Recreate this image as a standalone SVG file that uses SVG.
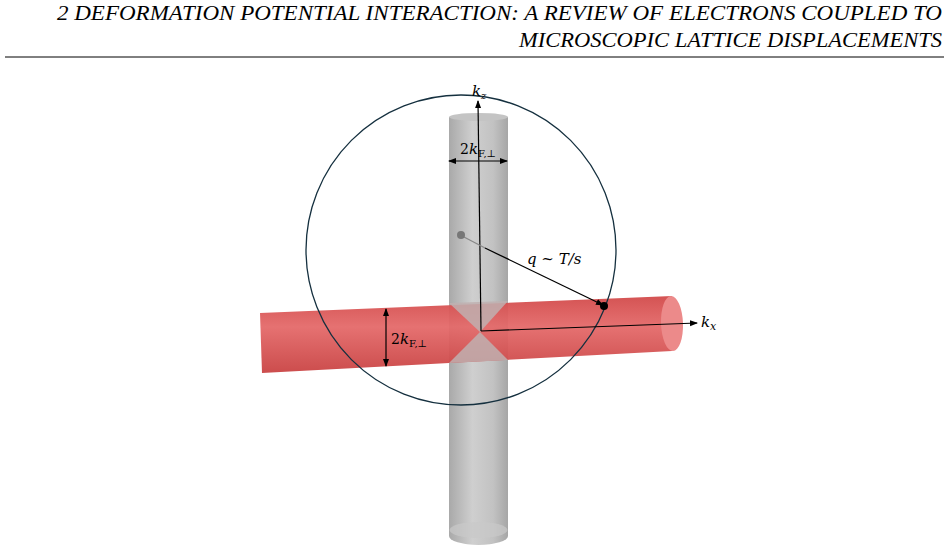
<svg xmlns="http://www.w3.org/2000/svg" width="949" height="549" viewBox="0 0 949 549">
<defs>
<linearGradient id="gg" x1="0" y1="0" x2="1" y2="0"><stop offset="0" stop-color="#a9a9a9"/><stop offset="0.4" stop-color="#cfcfcf"/><stop offset="0.75" stop-color="#c2c2c2"/><stop offset="1" stop-color="#a6a6a6"/></linearGradient>
<linearGradient id="rg" x1="0" y1="0" x2="0" y2="1"><stop offset="0" stop-color="#d24a4a"/><stop offset="0.4" stop-color="#e46a6a"/><stop offset="1" stop-color="#c94343"/></linearGradient>
<marker id="ah" markerWidth="8" markerHeight="8" refX="7" refY="4" orient="auto" markerUnits="userSpaceOnUse"><path d="M0,1 L8,4 L0,7 Z" fill="#000"/></marker>
<marker id="ah2" markerWidth="8" markerHeight="8" refX="1" refY="4" orient="auto" markerUnits="userSpaceOnUse"><path d="M8,1 L0,4 L8,7 Z" fill="#000"/></marker>
</defs>
<style>
.hd{font-family:"Liberation Serif",serif;font-style:italic;font-size:20px;fill:#000}
.m{font-family:"DejaVu Serif","Liberation Serif",serif;font-style:italic;font-size:15px;fill:#000}
.mr{font-family:"DejaVu Serif","Liberation Serif",serif;font-size:14px;fill:#000}
.ax{stroke-width:1.2;fill:none}
</style>
<text class="hd" x="57" y="20" textLength="885" lengthAdjust="spacingAndGlyphs">2   DEFORMATION POTENTIAL INTERACTION: A REVIEW OF ELECTRONS COUPLED TO</text>
<text class="hd" x="519" y="47" textLength="423" lengthAdjust="spacingAndGlyphs">MICROSCOPIC LATTICE DISPLACEMENTS</text>
<line x1="5" y1="57" x2="944" y2="57" stroke="#000" stroke-width="1"/>
<g id="gray-cylinder">
<path d="M449,117 L449,536 A29.5,9 0 0 0 508,536 L508,117 Z" fill="url(#gg)"/>
<ellipse cx="478.5" cy="117" rx="29.5" ry="4" fill="#c4c4c4"/>
<ellipse cx="478.5" cy="530" rx="29" ry="8" fill="#c9c9c9" opacity="0.7"/>
</g>
<g id="red-cylinder">
<path d="M260,313 L672,296 L672,351 L262,373 Z" fill="url(#rg)" opacity="0.95"/>
<ellipse cx="672" cy="323.5" rx="11" ry="27.5" transform="rotate(-2 672 323.5)" fill="#ec8a8a"/>
<polygon points="449,303 508,301 480,332" fill="#c0b0b0" opacity="0.85"/>
<polygon points="449,363 508,360 480,332" fill="#c0b0b0" opacity="0.85"/>
</g>
<g id="sphere"><circle cx="461" cy="250" r="155" fill="none" stroke="#15303f" stroke-width="1.3"/></g>
<g id="connectors">
<line class="ax" x1="481" y1="331" x2="478" y2="101" marker-end="url(#ah)" stroke="#000"/>
<line class="ax" x1="481" y1="331" x2="697" y2="323" marker-end="url(#ah)" stroke="#000"/>
<line x1="449" y1="161" x2="507" y2="161" stroke="#000" stroke-width="1.2" marker-start="url(#ah2)" marker-end="url(#ah)"/>
<line x1="386" y1="309" x2="386" y2="366" stroke="#000" stroke-width="1.2" marker-start="url(#ah2)" marker-end="url(#ah)"/>
<line x1="464" y1="237" x2="485" y2="248" stroke="#888" stroke-width="1.2"/>
<line x1="485" y1="248" x2="603" y2="305" stroke="#000" stroke-width="1.3" marker-end="url(#ah)"/>
<circle cx="461" cy="235" r="4" fill="#777"/>
<circle cx="604" cy="306" r="4" fill="#000"/>
</g>
<text class="m" x="472" y="96">k<tspan font-size="10" dy="3">z</tspan></text>
<text class="m" x="701" y="327">k<tspan font-size="11" dy="3">x</tspan></text>
<text class="mr" x="460" y="154">2<tspan class="m" font-size="14">k</tspan><tspan font-size="10" dy="3">F,⊥</tspan></text>
<text class="mr" x="391" y="344">2<tspan class="m" font-size="14">k</tspan><tspan font-size="10" dy="3">F,⊥</tspan></text>
<text class="m" x="527" y="264">q ~ T/s</text>
</svg>
